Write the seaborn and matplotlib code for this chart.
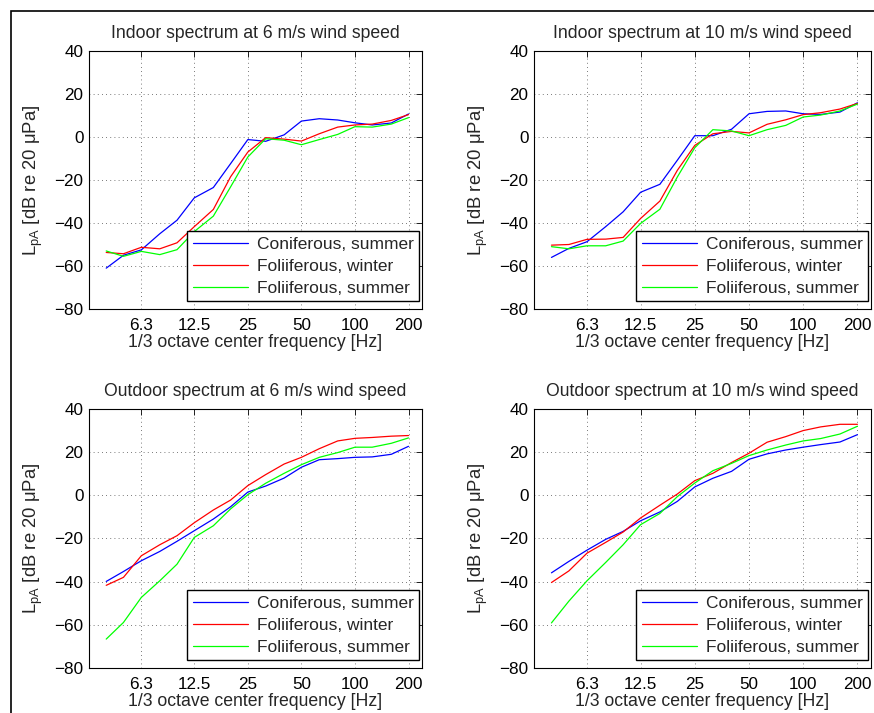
import numpy as np
import pandas as pd
import matplotlib
matplotlib.use("Agg")
import matplotlib.pyplot as plt
import matplotlib.patches as mpatches
import seaborn as sns

# 1/3 octave centre frequencies [Hz]
freqs = [4, 5, 6.3, 8, 10, 12.5, 16, 20, 25, 31.5, 40, 50, 63, 80, 100, 125, 160, 200]
tick_freqs = [6.3, 12.5, 25, 50, 100, 200]
tick_labels = ["6.3", "12.5", "25", "50", "100", "200"]
series_names = ["Coniferous, summer", "Foliiferous, winter", "Foliiferous, summer"]

# Indoor, 6 m/s
in6_conif_summer = [-61, -55, -52.5, -45, -38.7, -28.3, -23.5, -12.4, -1.2, -2, 1, 7.4, 8.5, 7.9, 6.6, 5.6, 6.5, 10.7]
in6_folii_winter = [-53.7, -54.3, -51.3, -52, -49.2, -41.7, -33.7, -18.5, -7, -0.3, -1, -1.9, 1.5, 4.6, 5.6, 6, 7.7, 10.4]
in6_folii_summer = [-53, -55.5, -53.2, -54.7, -52.4, -44, -36.8, -23.2, -9.3, -0.8, -1.5, -3.6, -1.2, 1.2, 4.8, 4.6, 6, 9]

# Indoor, 10 m/s
in10_conif_summer = [-56, -51.8, -48.7, -41.7, -34.8, -25.7, -22, -10.8, 0.6, 0.6, 3.6, 10.8, 11.9, 12.1, 10.8, 10.5, 11.6, 15.9]
in10_folii_winter = [-50.3, -50, -47.6, -47.5, -46.7, -37.9, -29.8, -15.5, -3.9, 1.5, 2.6, 1.9, 5.9, 8, 10.4, 11.3, 13, 15.6]
in10_folii_summer = [-51, -52, -50.6, -50.6, -48.4, -40.2, -33.6, -18.6, -5, 3.4, 2.8, 0.6, 3.4, 5.4, 9.3, 10.2, 12.1, 15.3]

# Outdoor, 6 m/s
out6_conif_summer = [-39.9, -35.3, -30.3, -26, -21.3, -16.4, -11, -5.3, 1.5, 4.3, 8, 13, 16.5, 17, 17.6, 17.8, 19, 22.7]
out6_folii_winter = [-41.7, -38, -28, -22.9, -18.7, -12.7, -6.8, -2.2, 4.5, 9.6, 14.5, 17.6, 21.6, 25.2, 26.4, 26.8, 27.4, 27.7]
out6_folii_summer = [-66.6, -58.9, -47.3, -39.6, -31.9, -19.5, -14.1, -6.3, 0.3, 5.6, 10.2, 14.2, 17.6, 19.8, 22.3, 22.3, 24.1, 26.6]

# Outdoor, 10 m/s
out10_conif_summer = [-35.9, -30.6, -25.4, -20.4, -16.7, -11.8, -7.7, -2.8, 3.9, 7.9, 11.1, 16.7, 19.2, 21, 22.3, 23.5, 24.7, 28.1]
out10_folii_winter = [-40.4, -35, -26.8, -21.8, -17, -10.5, -4.6, 0.6, 6.8, 10.2, 15.2, 19.5, 24.6, 27.2, 30, 31.7, 32.9, 32.9]
out10_folii_summer = [-59.1, -49, -39.6, -31.1, -22.9, -13.6, -8.4, -0.6, 5.7, 11.4, 14.8, 18.4, 21, 23.3, 25.2, 26.3, 28.4, 32]

panels = [
    ("Indoor spectrum at 6 m/s wind speed", [in6_conif_summer, in6_folii_winter, in6_folii_summer]),
    ("Indoor spectrum at 10 m/s wind speed", [in10_conif_summer, in10_folii_winter, in10_folii_summer]),
    ("Outdoor spectrum at 6 m/s wind speed", [out6_conif_summer, out6_folii_winter, out6_folii_summer]),
    ("Outdoor spectrum at 10 m/s wind speed", [out10_conif_summer, out10_folii_winter, out10_folii_summer]),
]

sns.set_style("white")
plt.rcParams["font.family"] = ["Liberation Sans", "DejaVu Sans"]
plt.rcParams["font.size"] = 12
plt.rcParams["mathtext.fontset"] = "custom"
plt.rcParams["mathtext.rm"] = "Liberation Sans"
plt.rcParams["mathtext.it"] = "Liberation Sans"

palette = {series_names[0]: (0, 0, 1), series_names[1]: (1, 0, 0), series_names[2]: (0, 1, 0)}

fig = plt.figure(figsize=(8.74, 7.13), dpi=100)
# axes rectangles [left, bottom, width, height]
rects = [
    [0.1018, 0.5666, 0.3810, 0.3619],
    [0.6110, 0.5666, 0.3856, 0.3619],
    [0.1018, 0.0631, 0.3810, 0.3633],
    [0.6110, 0.0631, 0.3856, 0.3633],
]

for i, (title, values) in enumerate(panels):
    ax = fig.add_axes(rects[i])
    df = pd.DataFrame({
        "freq": freqs * 3,
        "level": values[0] + values[1] + values[2],
        "series": np.repeat(series_names, len(freqs)),
    })
    sns.lineplot(data=df, x="freq", y="level", hue="series", palette=palette,
                 hue_order=series_names, linewidth=0.9, estimator=None, sort=True, ax=ax)
    ax.set_xscale("log")
    ax.set_xlim(3.2, 238)
    ax.set_ylim(-80, 40)
    ax.set_xticks(tick_freqs)
    ax.set_xticklabels(tick_labels)
    ax.xaxis.set_minor_locator(matplotlib.ticker.NullLocator())
    ax.set_yticks([-80, -60, -40, -20, 0, 20, 40])
    ax.tick_params(direction="in", top=True, right=True, length=4, width=0.6,
                   labelsize=12.3, colors="black")
    ax.tick_params(axis="x", pad=6.5)
    ax.tick_params(axis="y", pad=4)
    ax.grid(True, linestyle=(0, (1, 4)), color="0.3", linewidth=0.6)
    for s in ax.spines.values():
        s.set_color("black")
        s.set_linewidth(0.8)
    ax.set_title(title, fontsize=12.7, pad=9)
    ax.set_xlabel("1/3 octave center frequency [Hz]", fontsize=12.7, labelpad=0.5)
    ax.set_ylabel(r"$\mathregular{L_{pA}}$ [dB re 20 μPa]", fontsize=13.3)
    ax.yaxis.set_label_coords(-44 / (rects[i][2] * 874), 0.5)
    handles, labels = ax.get_legend_handles_labels()
    leg = ax.legend(handles, labels, loc="lower right", bbox_to_anchor=(0.991, 0.031),
                    borderaxespad=0, fancybox=False, framealpha=1, edgecolor="black",
                    fontsize=12.5, handlelength=3.2, handletextpad=0.5, labelspacing=0.4,
                    borderpad=0.3)
    leg.get_frame().set_linewidth(1.0)

# outer frame of the figure
fig.patches.append(mpatches.Rectangle((11 / 874, -0.5), 2, 1 - 11 / 713 + 0.5,
                                      transform=fig.transFigure, fill=False,
                                      edgecolor="black", linewidth=1.2))

fig.savefig("out.png", dpi=100)
